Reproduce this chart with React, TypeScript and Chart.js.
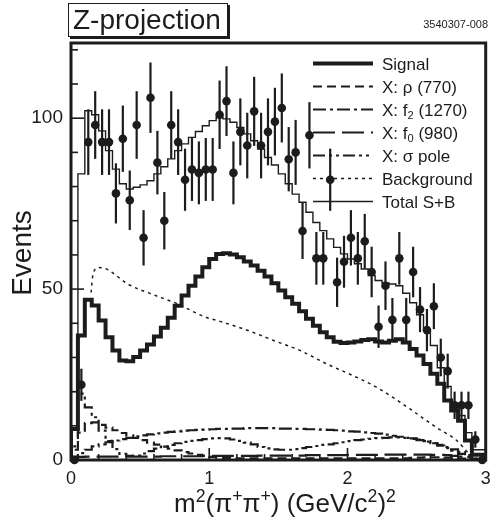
import React, { useEffect, useRef } from "react";
import { Chart, registerables } from "chart.js";

Chart.register(...registerables);

const FONT = '"Liberation Sans", Arial, Helvetica, sans-serif';
const INK = "#1c1c1c";

// ---------- data ----------
const binEdges = [
  0.0, 0.05, 0.1, 0.15, 0.2, 0.25, 0.3, 0.35, 0.4, 0.45,
  0.5, 0.55, 0.6, 0.65, 0.7, 0.75, 0.8, 0.85, 0.9, 0.95,
  1.0, 1.05, 1.1, 1.15, 1.2, 1.25, 1.3, 1.35, 1.4, 1.45,
  1.5, 1.55, 1.6, 1.65, 1.7, 1.75, 1.8, 1.85, 1.9, 1.95,
  2.0, 2.05, 2.1, 2.15, 2.2, 2.25, 2.3, 2.35, 2.4, 2.45,
  2.5, 2.55, 2.6, 2.65, 2.7, 2.75, 2.8, 2.85, 2.9, 2.95, 3.0,
];

const binCenters = [
  0.025, 0.075, 0.125, 0.175, 0.225, 0.275, 0.325, 0.375, 0.425, 0.475,
  0.525, 0.575, 0.625, 0.675, 0.725, 0.775, 0.825, 0.875, 0.925, 0.975,
  1.025, 1.075, 1.125, 1.175, 1.225, 1.275, 1.325, 1.375, 1.425, 1.475,
  1.525, 1.575, 1.625, 1.675, 1.725, 1.775, 1.825, 1.875, 1.925, 1.975,
  2.025, 2.075, 2.125, 2.175, 2.225, 2.275, 2.325, 2.375, 2.425, 2.475,
  2.525, 2.575, 2.625, 2.675, 2.725, 2.775, 2.825, 2.875, 2.925, 2.975,
];

const dataCounts = [
  0, 22, 93, 98, 93, 93, 78, 94, 76, 98,
  65, 106, 87, 70, 98, 93, 82, 85, 84, 85,
  85, 101, 105, 84, 96, 92, 102, 92, 96, 99,
  103, 88, 90, 67, 95, 59, 59, 82, 52, 58,
  65, 59, 64, 55, 39, 51, 41, 59, 41, 55,
  44, 38, 45, 30, 26, 16, 16, 16, 6, 0,
];

const dataErrors = [
  0, 4.7, 9.6, 9.9, 9.6, 9.6, 8.8, 9.7, 8.7, 9.9,
  8.1, 10.3, 9.3, 8.4, 9.9, 9.6, 9.1, 9.2, 9.2, 9.2,
  9.2, 10.0, 10.2, 9.2, 9.8, 9.6, 10.1, 9.6, 9.8, 9.9,
  10.1, 9.4, 9.5, 8.2, 9.7, 7.7, 7.7, 9.1, 7.2, 7.6,
  8.1, 7.7, 8.0, 7.4, 6.2, 7.1, 6.4, 7.7, 6.4, 7.4,
  6.6, 6.2, 6.7, 5.5, 5.1, 4.0, 4.0, 4.0, 2.4, 0,
];

const totalSB = [
  0, 20, 83.7, 102.2, 101, 96.3, 90.5, 85.1, 80.8, 79.3,
  79.8, 80.5, 81.7, 83.7, 85.8, 88.1, 90.5, 92.5, 94.4, 96.1,
  97.8, 99.3, 100.2, 99.8, 98.8, 97.3, 95.4, 93.4, 91, 88.5,
  86.3, 83.7, 80.8, 77.8, 75.4, 72.5, 69.5, 67.1, 64.7, 62.2,
  60.3, 58.8, 57.4, 55.9, 54, 52.5, 51.8, 51.5, 51, 48.8,
  46, 42.5, 38, 33.5, 27, 21.5, 16.5, 13, 8, 3,
];

const signal = [
  0, 9.1, 36.4, 46.9, 45.2, 40.8, 35.9, 32.0, 29.1, 28.9,
  30.1, 32, 33.8, 36.1, 38.7, 41.6, 45.1, 48.1, 51, 53.7,
  56.4, 58.8, 60.3, 60.5, 60.1, 59.3, 58.1, 56.9, 55.4, 53.7,
  51.7, 49.6, 47.6, 45.7, 43.5, 41.3, 39.3, 37.4, 35.9, 34.6,
  34.2, 34.4, 34.7, 35.1, 35.3, 34.7, 34.4, 34.9, 35.3, 34.4,
  32.5, 30.6, 28.1, 25.2, 22.3, 17.4, 14.5, 11.5, 5.7, 1.5,
];

const rhoComp = [
  0, 3, 8, 10.8, 11, 10.3, 9.5, 8.7, 7.9, 7.2,
  6.5, 5.8, 5.1, 4.5, 3.9, 3.3, 2.8, 2.3, 1.9, 1.5,
  1.2, 0.9, 0.7, 0.6, 0.5, 0.5, 0.5, 0.5, 0.5, 0.5,
  0.5, 0.5, 0.5, 0.5, 0.5, 0.5, 0.5, 0.5, 0.5, 0.5,
  0.5, 0.5, 0.5, 0.5, 0.5, 0.5, 0.5, 0.5, 0.5, 0.5,
  0.6, 0.7, 0.8, 0.8, 0.8, 0.7, 0.6, 0.4, 0.2, 0,
];

const f2Comp = [
  0, 1.0, 2.0, 3.0, 4.0, 4.6, 5.2, 5.7, 6.1, 6.5,
  6.9, 7.2, 7.5, 7.8, 8.0, 8.2, 8.4, 8.6, 8.7, 8.8,
  8.9, 9.0, 9.1, 9.1, 9.2, 9.2, 9.3, 9.3, 9.3, 9.3,
  9.3, 9.2, 9.2, 9.1, 9.1, 9.0, 9.0, 8.9, 8.8, 8.7,
  8.6, 8.4, 8.3, 8.1, 7.9, 7.7, 7.4, 7.1, 6.8, 6.5,
  6.2, 5.8, 5.4, 4.9, 4.4, 3.8, 3.1, 2.3, 1.4, 0.4,
];

const f0Comp = [
  0, 0.5, 0.9, 1.0, 1.0, 1.0, 1.0, 1.0, 1.0, 1.0,
  1.0, 1.0, 1.0, 1.0, 1.1, 1.1, 1.1, 1.1, 1.1, 1.1,
  1.2, 1.2, 1.2, 1.2, 1.2, 1.2, 1.2, 1.2, 1.3, 1.3,
  1.3, 1.3, 1.3, 1.3, 1.3, 1.4, 1.4, 1.4, 1.4, 1.4,
  1.4, 1.5, 1.5, 1.5, 1.5, 1.5, 1.6, 1.6, 1.6, 1.6,
  1.6, 1.6, 1.6, 1.5, 1.5, 1.4, 1.2, 1.0, 0.7, 0.3,
];

const sigmaComp = [
  0, 4, 19.4, 15.4, 12.5, 8.6, 5.5, 3.2, 1.8, 1.2,
  1.3, 1.9, 2.6, 3.3, 3.9, 4.4, 4.9, 5.3, 5.6, 5.8,
  6.1, 6.3, 6.4, 6.3, 6.0, 5.6, 5.1, 4.6, 3.8, 3.4,
  3.1, 3.0, 3.0, 3.2, 3.5, 3.8, 4.1, 4.4, 4.6, 4.9,
  5.2, 5.5, 5.8, 6.0, 6.2, 6.4, 6.5, 6.6, 6.6, 6.5,
  6.3, 6.0, 5.5, 4.9, 4.2, 3.5, 2.7, 1.8, 0.9, 0,
];

const bgX = [0.145, 0.16, 0.2, 0.25, 0.3, 0.41, 0.58, 0.77, 0.96, 1.1, 1.3, 1.47, 1.66, 1.85, 2.0, 2.21, 2.45, 2.64, 2.79, 2.88, 2.93];
const bgY = [49, 54.5, 56.3, 56, 54.8, 51.5, 48.6, 45.7, 42, 40.3, 37.6, 34.9, 32, 28.1, 25.4, 21.3, 15, 9.6, 5.7, 1.8, 0];

const xTickValues = [0, 1, 2, 3];
const yTickValues = [0, 50, 100];

// ---------- styles ----------
const DASH_RHO = [9, 5];
const DASH_F2 = [13, 4, 3, 4];
const DASH_F0 = [22, 7];
const DASH_SIGMA = [12, 4, 3, 4, 3, 4];
const DASH_BG = [3, 4];

const legendRows = [
  { width: 4, dash: [] as number[] },
  { width: 2.2, dash: DASH_RHO },
  { width: 2.2, dash: DASH_F2 },
  { width: 2.2, dash: DASH_F0 },
  { width: 2.2, dash: DASH_SIGMA },
  { width: 1.5, dash: DASH_BG },
  { width: 1.4, dash: [] as number[] },
];

function histPoints(vals: number[]) {
  const pts = vals.map((v, i) => ({ x: binEdges[i], y: v }));
  pts.push({ x: binEdges[vals.length], y: vals[vals.length - 1] });
  pts.push({ x: binEdges[vals.length], y: 0 });
  return pts;
}

function histDataset(vals: number[], width: number, dash: number[]) {
  return {
    data: histPoints(vals),
    borderColor: INK,
    borderWidth: width,
    borderDash: dash,
    stepped: "after" as const,
    pointRadius: 0,
    fill: false,
    borderJoinStyle: "miter" as const,
    borderCapStyle: "butt" as const,
  };
}

const errorBarPlugin = {
  id: "errorBars",
  afterDatasetsDraw(chart: any) {
    const { ctx, scales } = chart;
    const y = scales.y;
    const meta = chart.getDatasetMeta(0);
    ctx.save();
    ctx.strokeStyle = INK;
    ctx.lineWidth = 2.2;
    meta.data.forEach((pt: any, i: number) => {
      const e = dataErrors[i];
      if (!e) return;
      const y1 = y.getPixelForValue(dataCounts[i] - e);
      const y2 = y.getPixelForValue(dataCounts[i] + e);
      ctx.beginPath();
      ctx.moveTo(pt.x, y1);
      ctx.lineTo(pt.x, y2);
      ctx.stroke();
    });
    ctx.restore();
  },
};

const frameTicksPlugin = {
  id: "frameTicks",
  afterDraw(chart: any) {
    const { ctx, chartArea: a, scales } = chart;
    const xs = scales.x;
    const ys = scales.y;
    ctx.save();
    ctx.strokeStyle = INK;
    ctx.lineWidth = 1.6;
    for (let v = 0; v <= 120; v += 10) {
      const py = ys.getPixelForValue(v);
      const len = v % 50 === 0 ? 13 : 7;
      ctx.beginPath();
      ctx.moveTo(a.left, py);
      ctx.lineTo(a.left + len, py);
      ctx.stroke();
    }
    for (let k = 0; k <= 15; k++) {
      const v = k * 0.2;
      const px = xs.getPixelForValue(v);
      const len = k % 5 === 0 ? 12 : 6;
      ctx.beginPath();
      ctx.moveTo(px, a.bottom);
      ctx.lineTo(px, a.bottom - len);
      ctx.stroke();
    }
    ctx.lineWidth = 3;
    ctx.strokeRect(a.left, a.top, a.right - a.left, a.bottom - a.top);

    // legend samples
    const x0 = 313;
    const x1 = 373;
    legendRows.forEach((r, i) => {
      const yy = 63.5 + 23 * i;
      ctx.lineWidth = r.width;
      ctx.setLineDash(r.dash);
      ctx.beginPath();
      ctx.moveTo(x0, yy);
      ctx.lineTo(x1, yy);
      ctx.stroke();
    });
    ctx.setLineDash([]);
    ctx.restore();
  },
};

export default function App() {
  const ref = useRef<HTMLCanvasElement>(null);

  useEffect(() => {
    if (!ref.current) return;
    const chart = new Chart(ref.current, {
      type: "line",
      data: {
        datasets: [
          {
            data: binCenters.map((x, i) => ({ x, y: dataCounts[i] })),
            showLine: false,
            pointRadius: 4.3,
            pointBackgroundColor: INK,
            pointBorderWidth: 0,
            clip: false,
          } as any,
          histDataset(signal, 4, []),
          histDataset(totalSB, 1.4, []),
          {
            data: bgX.map((x, i) => ({ x, y: bgY[i] })),
            borderColor: INK,
            borderWidth: 1.5,
            borderDash: DASH_BG,
            pointRadius: 0,
            cubicInterpolationMode: "monotone",
            fill: false,
          } as any,
          histDataset(rhoComp, 2.2, DASH_RHO),
          histDataset(f2Comp, 2.2, DASH_F2),
          histDataset(f0Comp, 2.2, DASH_F0),
          histDataset(sigmaComp, 2.2, DASH_SIGMA),
        ],
      },
      options: {
        animation: false,
        responsive: false,
        devicePixelRatio: 1,
        events: [],
        layout: { padding: { top: 43, right: 2, left: 0, bottom: 0 } },
        plugins: {
          legend: { display: false },
          tooltip: { enabled: false },
          title: { display: false },
        },
        scales: {
          x: {
            type: "linear",
            min: 0,
            max: 3,
            grid: { display: false, drawTicks: false },
            border: { display: false },
            afterBuildTicks: (s: any) => {
              s.ticks = xTickValues.map((v) => ({ value: v }));
            },
            afterFit: (s: any) => {
              s.height = 67;
              s.paddingLeft = 0;
              s.paddingRight = 0;
            },
            ticks: {
              padding: 8,
              color: INK,
              font: { family: FONT, size: 18 },
              maxRotation: 0,
              callback: (v: any) => String(v),
            },
          },
          y: {
            type: "linear",
            min: 0,
            max: 122,
            grid: { display: false, drawTicks: false },
            border: { display: false },
            afterBuildTicks: (s: any) => {
              s.ticks = yTickValues.map((v) => ({ value: v }));
            },
            afterFit: (s: any) => {
              s.width = 71;
              s.paddingTop = 0;
              s.paddingBottom = 0;
            },
            ticks: {
              padding: 8,
              color: INK,
              font: { family: FONT, size: 19 },
              callback: (v: any) => String(v),
            },
          },
        },
      } as any,
      plugins: [errorBarPlugin, frameTicksPlugin],
    });
    return () => chart.destroy();
  }, []);

  const supStyle: React.CSSProperties = { fontSize: "0.68em", verticalAlign: "0.55em", lineHeight: 0 };
  const subStyle: React.CSSProperties = { fontSize: "0.65em", verticalAlign: "-0.3em", lineHeight: 0 };

  return (
    <div
      style={{
        position: "fixed",
        left: 0,
        top: 0,
        width: 490,
        height: 527,
        background: "#fff",
        fontFamily: FONT,
        color: INK,
        overflow: "hidden",
      }}
    >
      <canvas
        ref={ref}
        width={490}
        height={527}
        style={{ position: "absolute", left: 0, top: 0, width: 490, height: 527 }}
      />
      <div
        style={{
          position: "absolute",
          left: 68,
          top: 3,
          width: 160,
          height: 34,
          boxSizing: "border-box",
          border: `1.5px solid ${INK}`,
          boxShadow: `2px 2px 0 ${INK}`,
          background: "#fff",
          fontSize: 28,
          lineHeight: "31px",
          paddingLeft: 4,
          whiteSpace: "nowrap",
        }}
      >
        Z-projection
      </div>
      <div
        style={{
          position: "absolute",
          right: 2,
          top: 19,
          fontSize: 11,
          lineHeight: "11px",
          whiteSpace: "nowrap",
        }}
      >
        3540307-008
      </div>
      <div
        style={{
          position: "absolute",
          left: -38,
          top: 237,
          width: 120,
          height: 32,
          fontSize: 28,
          lineHeight: "32px",
          textAlign: "center",
          transform: "rotate(-90deg)",
          whiteSpace: "nowrap",
        }}
      >
        Events
      </div>
      <div
        style={{
          position: "absolute",
          left: 125,
          top: 488,
          width: 320,
          fontSize: 26,
          lineHeight: "30px",
          textAlign: "center",
          whiteSpace: "nowrap",
        }}
      >
        m<sup style={supStyle}>2</sup>(π<sup style={supStyle}>+</sup>π<sup style={supStyle}>+</sup>) (GeV/c
        <sup style={supStyle}>2</sup>)<sup style={supStyle}>2</sup>
      </div>
      <div
        style={{
          position: "absolute",
          left: 382,
          top: 52.6,
          fontSize: 17,
          lineHeight: "23px",
          whiteSpace: "nowrap",
        }}
      >
        <div>Signal</div>
        <div>X: ρ (770)</div>
        <div>
          X: f<sub style={subStyle}>2</sub> (1270)
        </div>
        <div>
          X: f<sub style={subStyle}>0</sub> (980)
        </div>
        <div>X: σ pole</div>
        <div>Background</div>
        <div>Total S+B</div>
      </div>
    </div>
  );
}
